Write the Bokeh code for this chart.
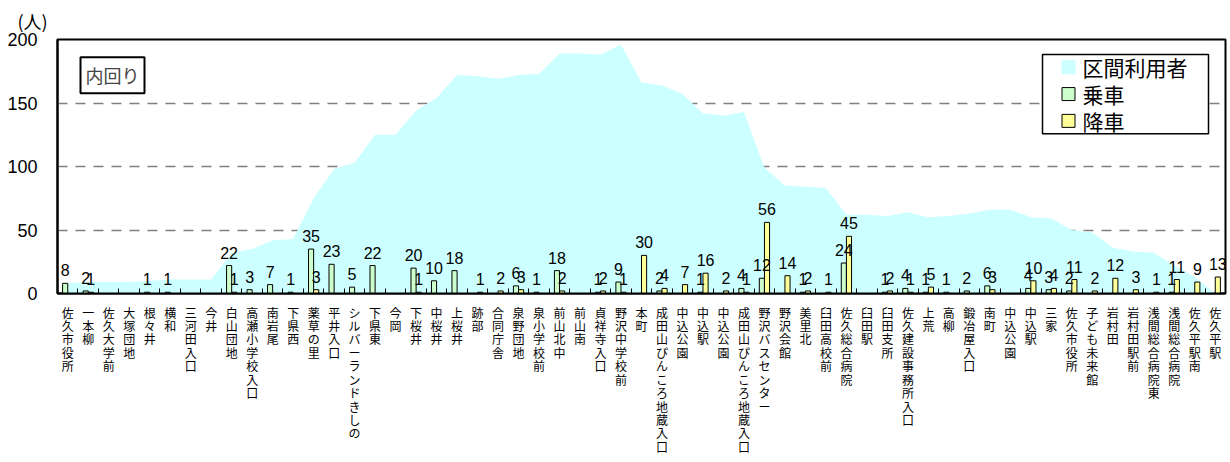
import numpy as np
from bokeh.plotting import figure
from bokeh.models import (ColumnDataSource, FixedTicker, Label, BoxAnnotation, Range1d)
from bokeh.core.properties import value
from bokeh.transform import dodge
from bokeh.embed import file_html
from bokeh.resources import INLINE

stops = ["佐久市役所", "一本柳", "佐久大学前", "大塚団地", "根々井", "横和", "三河田入口", "今井",
         "白山団地", "高瀬小学校入口", "南岩尾", "下県西", "薬草の里", "平井入口", "シルバーランドきしの",
         "下県東", "今岡", "下桜井", "中桜井", "上桜井", "跡部", "合同庁舎", "泉野団地", "泉小学校前",
         "前山北中", "前山南", "貞祥寺入口", "野沢中学校前", "本町", "成田山ぴんころ地蔵入口", "中込公園",
         "中込駅", "中込公園", "成田山ぴんころ地蔵入口", "野沢バスセンター", "野沢会館", "美里北",
         "臼田高校前", "佐久総合病院", "臼田駅", "臼田支所", "佐久建設事務所入口", "上荒", "高柳",
         "鍛冶屋入口", "南町", "中込公園", "中込駅", "三家", "佐久市役所", "子ども未来館", "岩村田",
         "岩村田駅前", "浅間総合病院東", "浅間総合病院", "佐久平駅南", "佐久平駅"]

# 乗車 (boarding)
boarding = [8, 2, 0, 0, 1, 1, 0, 0, 22, 3, 7, 1, 35, 23, 5, 22, 0, 20, 10, 18, 0, 0, 6, 1,
            18, 0, 1, 9, 0, 2, 0, 1, 0, 4, 12, 0, 1, 0, 24, 0, 1, 4, 1, 1, 2, 6, 0, 4, 3, 2,
            0, 0, 0, 0, 1, 0, 0]
# 降車 (alighting)
alighting = [0, 1, 0, 0, 0, 0, 0, 0, 1, 0, 0, 0, 3, 0, 0, 0, 0, 1, 0, 0, 1, 2, 3, 0,
             2, 0, 2, 1, 30, 4, 7, 16, 2, 1, 56, 14, 2, 1, 45, 0, 2, 1, 5, 0, 0, 3, 0, 10, 4, 11,
             2, 12, 3, 1, 11, 9, 13]
# 区間利用者 (riders on board)
riders = [8, 9, 9, 9, 10, 11, 11, 11, 32, 35, 42, 43, 75, 98, 103, 125, 125, 144, 154, 172,
          171, 169, 172, 173, 189, 189, 188, 196, 166, 164, 157, 142, 140, 143, 99, 85, 84, 83,
          62, 62, 61, 64, 60, 61, 63, 66, 66, 60, 59, 50, 48, 36, 33, 32, 22, 13, 0]

y_ticks = [0, 50, 100, 150, 200]
grid_ticks = [50, 100, 150]
series_names = ["区間利用者", "乗車", "降車"]
series_fill = ["#CCFFFF", "#CCFFCC", "#FFFF99"]
series_line = ["#CCFFFF", "black", "black"]

JP = "Noto Sans CJK JP"
NUM = "Liberation Sans"

idx = list(range(len(stops)))
src = ColumnDataSource(dict(x=idx, board=boarding, alight=alighting, riders=riders))

# layout geometry (pixels)
FL, FT, FW, FH = 57, 37, 1168, 256
X0, X1 = -0.5, len(stops) - 0.5
Y0, Y1 = 0, 200


def px_x(px):
    return X0 + (px - FL) * (X1 - X0) / FW


def px_y(py):
    return Y1 - (py - FT) * (Y1 - Y0) / FH


p = figure(width=1228, height=460, x_range=Range1d(X0, X1),
           y_range=Range1d(Y0, Y1), output_backend="svg", toolbar_location=None,
           min_border_left=FL, min_border_right=1228 - FL - FW, min_border_top=FT,
           min_border_bottom=460 - FT - FH)
p.background_fill_color = "white"
p.border_fill_color = "white"
p.outline_line_color = "black"
p.outline_line_width = 2

p.title.text = "(人)"
p.title.align = "left"
p.title.offset = -40
p.title.text_font = JP
p.title.text_font_size = "18px"
p.title.text_font_style = "normal"
p.title.text_color = "black"
p.title.standoff = 11

area = p.varea(x="x", y1=0, y2="riders", source=src, fill_color=series_fill[0])
gbar = p.vbar(x=dodge("x", -0.125, range=p.x_range), top="board", width=0.25, source=src,
              fill_color=series_fill[1], line_color="black", line_width=1)
ybar = p.vbar(x=dodge("x", 0.125, range=p.x_range), top="alight", width=0.25, source=src,
              fill_color=series_fill[2], line_color="black", line_width=1)

gb = [(i, v) for i, v in zip(idx, boarding) if v > 0]
al = [(i, v) for i, v in zip(idx, alighting) if v > 0]
gsrc = ColumnDataSource(dict(x=[a for a, _ in gb], v=[b for _, b in gb], t=[str(b) for _, b in gb]))
asrc = ColumnDataSource(dict(x=[a for a, _ in al], v=[b for _, b in al], t=[str(b) for _, b in al]))
for s, off in ((gsrc, -0.125), (asrc, 0.125)):
    p.text(x=dodge("x", off, range=p.x_range), y="v", text="t", source=s,
           text_font=value(NUM), text_font_size="16px", text_align="center",
           text_baseline="bottom", y_offset=-7, text_color="black")

# grid
p.xgrid.visible = False
p.ygrid.ticker = FixedTicker(ticks=grid_ticks)
p.ygrid.grid_line_color = "#808080"
p.ygrid.grid_line_width = 1.5
p.ygrid.grid_line_dash = "10 8"

# y axis
ya = p.yaxis[0]
ya.ticker = FixedTicker(ticks=y_ticks)
ya.major_tick_out = 0
ya.major_tick_in = 0
ya.minor_tick_out = 0
ya.minor_tick_in = 0
ya.axis_line_color = "black"
ya.axis_line_width = 2
ya.major_label_text_font = NUM
ya.major_label_text_font_size = "18px"
ya.major_label_text_color = "black"
ya.major_label_standoff = 20

# x axis
xa = p.xaxis[0]
xa.ticker = FixedTicker(ticks=idx, minor_ticks=[i - 0.5 for i in idx] + [len(idx) - 0.5])
xa.major_tick_in = 0
xa.major_tick_out = 0
xa.minor_tick_in = 5
xa.minor_tick_out = 0
xa.minor_tick_line_color = "black"
xa.axis_line_color = "black"
xa.axis_line_width = 2
xa.major_label_overrides = {i: "\n".join(s) for i, s in enumerate(stops)}
xa.major_label_text_font = JP
xa.major_label_text_font_size = "12px"
xa.major_label_text_line_height = 0.79
xa.major_label_text_color = "black"
xa.major_label_standoff = 10

# legend (drawn by hand to match the row spacing)
p.add_layout(BoxAnnotation(left=px_x(1042), right=px_x(1208), top=px_y(52), bottom=px_y(132),
                           fill_color="white", fill_alpha=1.0, line_color="black",
                           line_alpha=1.0, line_width=1.5, level="glyph"))
row_py = [65, 92, 119]
p.rect(x=[px_x(1068)] * 3, y=[px_y(r) for r in row_py], width=13, height=13,
       width_units="screen", height_units="screen", fill_color=series_fill,
       line_color=series_line, line_width=1, level="overlay")
for name, r in zip(series_names, row_py):
    p.add_layout(Label(x=px_x(1082), y=px_y(r), text=name, text_font=JP,
                       text_font_size="21px", text_baseline="middle", text_color="black"))

p.add_layout(Label(x=px_x(80), y=px_y(55), text="内回り", text_font=JP, text_font_size="18px",
                   text_baseline="top", border_line_color="black", border_line_width=2,
                   background_fill_color="white", padding=5))

open("out.html", "w").write(file_html(p, INLINE))
